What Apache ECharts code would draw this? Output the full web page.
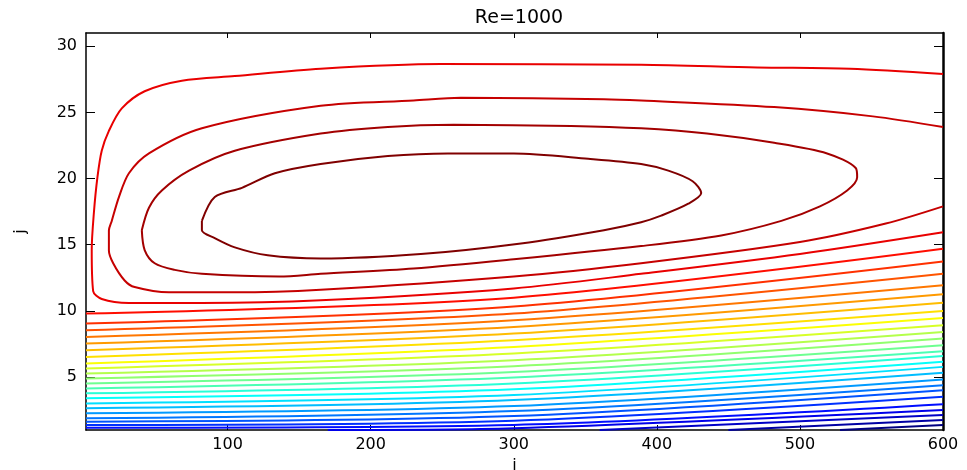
<!DOCTYPE html>
<html>
<head>
<meta charset="utf-8">
<script src="https://cdn.jsdelivr.net/npm/echarts@6/dist/echarts.min.js"></script>
<style>
  html, body { margin: 0; padding: 0; background: #fff; }
  #chart { width: 967px; height: 470px; }
</style>
</head>
<body>
<div id="chart"></div>
<script>
// tick labels
const xTicks = [100, 200, 300, 400, 500, 600]
const yTicks = [5, 10, 15, 20, 25, 30]

// closed / open contours around the vortex as [i, j]
const innerLoop = [[82,16.8],[91,18.6],[110,19.3],[133,20.4],[165,21.1],[212,21.7],[254,21.9],[300,21.9],[352,21.5],[389,21.1],[408,20.6],[425,19.8],[431,18.9],[422,18.1],[403,17.2],[389,16.7],[363,16.1],[305,15.1],[235,14.3],[165,13.96],[128,14.2],[105,14.8],[91,15.5],[82,16.1],[82,16.8]]
const middleLoop = [[40,16.1],[45,17.8],[54,19.1],[73,20.6],[105,22.1],[165,23.4],[212,23.9],[258,24.06],[340,23.98],[389,23.8],[435,23.4],[482,22.7],[519,21.9],[539,20.8],[540,20.1],[533,19.1],[514,17.9],[487,16.8],[445,15.7],[389,14.9],[300,13.9],[230,13.2],[165,12.8],[136,12.6],[82,12.8],[63,13.1],[49,13.6],[42,14.6],[40,16.1]]
const secondCurve = [[600,23.9],[551,24.7],[482,25.4],[389,25.9],[363,26.0],[263,26.1],[230,25.9],[165,25.5],[82,23.8],[45,21.9],[31,20.4],[24,18.6],[19,16.8],[17,16.07],[17,14.56],[20,13.6],[28,12.3],[35,11.8],[59,11.4],[105,11.4],[165,11.6],[300,12.6],[389,13.6],[500,15.2],[560,16.6],[600,17.9]]
const outerCurve = [[600,27.9],[535,28.3],[470,28.4],[389,28.6],[249,28.65],[165,28.3],[105,27.75],[68,27.4],[42,26.6],[26,25.3],[17,23.6],[12,22.1],[9,20.1],[6.5,17.4],[5,14.6],[6,11.5],[12,10.9],[31,10.6],[82,10.6],[165,10.8],[300,11.7],[389,12.8],[500,14.3],[600,15.94]]

// the near-horizontal contours below the vortex: j at i = 1, 300, 600
const lineLeft  = [9.8, 9.04, 8.54, 8.03, 7.53, 7.03, 6.52, 6.03, 5.65, 5.27, 4.9, 4.52, 4.14, 3.77, 3.39, 3.01, 2.64, 2.26, 1.88, 1.63, 1.38, 1.17]
const lineMid   = [11.0, 10.34, 9.8, 9.29, 8.78, 8.29, 7.78, 7.28, 6.78, 6.28, 5.82, 5.39, 4.97, 4.52, 4.07, 3.64, 3.26, 2.81, 2.43, 2.05, 1.70, 1.38, 1.13]
const lineRight = [14.69, 13.74, 12.81, 11.93, 11.25, 10.62, 9.99, 9.46, 8.91, 8.41, 7.91, 7.41, 6.95, 6.6, 6.15, 5.77, 5.32, 4.82, 4.39, 4.01, 3.51, 2.94, 2.51, 2.13, 1.75, 1.38]
// where the lowest lines come up off the bottom wall (i)
const lineStartI = [170, 360, 450, 528]

function jet(t) {
  const c = (v) => Math.round(255 * Math.max(0, Math.min(1, v)))
  const r = c(Math.min(4 * t - 1.5, -4 * t + 4.5))
  const g = c(Math.min(4 * t - 0.5, -4 * t + 3.5))
  const b = c(Math.min(4 * t + 0.5, -4 * t + 2.5))
  return 'rgb(' + r + ',' + g + ',' + b + ')'
}

var contours = [innerLoop, middleLoop, secondCurve, outerCurve]
for (var k = 0; k < lineRight.length; k++) {
  var pts = []
  if (k < lineLeft.length) {
    pts.push([1, lineLeft[k]])
  } else {
    pts.push([lineStartI[k - lineLeft.length], 1])
  }
  if (k < lineMid.length) pts.push([300, lineMid[k]])
  pts.push([600, lineRight[k]])
  contours.push(pts)
}
var nLevels = contours.length

var series = contours.map(function (pts, idx) {
  return {
    type: 'line',
    data: pts,
    showSymbol: false,
    symbol: 'none',
    silent: true,
    smooth: 0.3,
    lineStyle: { color: jet(1 - idx / (nLevels - 1)), width: 2 },
  }
})

var axisFont = { color: '#000', fontSize: 16, fontFamily: 'DejaVu Sans' }
var myChart = echarts.init(document.getElementById('chart'))
var option = {
  animation: false,
  backgroundColor: '#fff',
  title: {
    text: 'Re=1000',
    left: 514,
    textAlign: 'center',
    top: 4,
    textStyle: { color: '#000', fontSize: 19, fontWeight: 'normal', fontFamily: 'DejaVu Sans' },
  },
  grid: { left: 86, right: 24, top: 33, bottom: 40, outerBoundsMode: 'none', containLabel: false },
  xAxis: [
    {
      type: 'value', min: 1, max: 600, position: 'bottom',
      name: 'i', nameLocation: 'middle', nameGap: 22,
      nameTextStyle: axisFont,
      axisLine: { onZero: false, lineStyle: { color: '#000', width: 1.5 } },
      axisTick: { inside: true, length: 5, customValues: xTicks, lineStyle: { color: '#000' } },
      axisLabel: { customValues: xTicks, margin: 7, ...axisFont },
      splitLine: { show: false },
    },
    {
      type: 'value', min: 1, max: 600, position: 'top',
      axisLine: { onZero: false, lineStyle: { color: '#000', width: 1.5 } },
      axisTick: { inside: true, length: 5, customValues: xTicks, lineStyle: { color: '#000' } },
      axisLabel: { show: false },
      splitLine: { show: false },
    },
  ],
  yAxis: [
    {
      type: 'value', min: 1, max: 31, position: 'left',
      name: 'j', nameLocation: 'middle', nameGap: 57, nameRotate: 90,
      nameTextStyle: axisFont,
      axisLine: { onZero: false, lineStyle: { color: '#000', width: 1.5 } },
      axisTick: { inside: true, length: 9, customValues: yTicks, lineStyle: { color: '#000' } },
      axisLabel: { customValues: yTicks, margin: 9, ...axisFont },
      splitLine: { show: false },
    },
    {
      type: 'value', min: 1, max: 31, position: 'right',
      axisLine: { onZero: false, lineStyle: { color: '#000', width: 2.5 } },
      axisTick: { inside: true, length: 9, customValues: yTicks, lineStyle: { color: '#000' } },
      axisLabel: { show: false },
      splitLine: { show: false },
    },
  ],
  series: series,
}
option && myChart.setOption(option)
window.addEventListener('resize', function () {
  myChart.resize()
})
</script>
</body>
</html>
